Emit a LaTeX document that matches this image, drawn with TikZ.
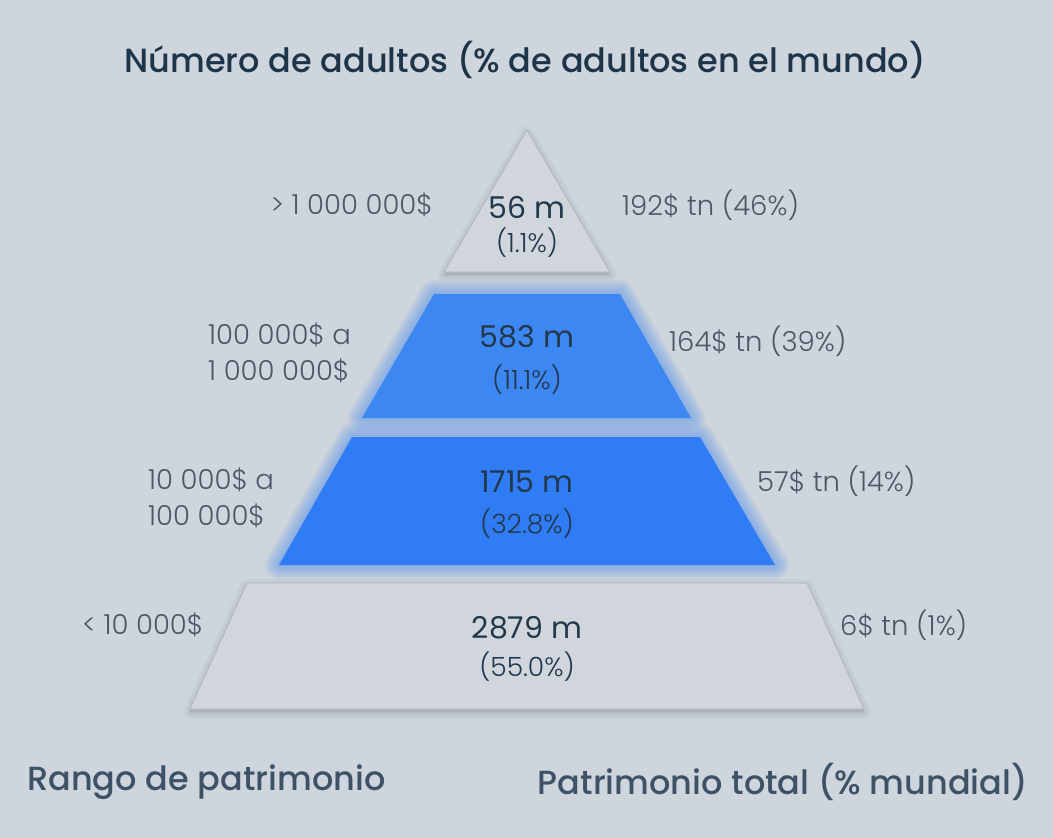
\documentclass[tikz,border=0pt]{standalone}
\usepackage{fontspec}
\setmainfont{Poppins}
\newfontfamily\medf{Poppins Medium}
\newfontfamily\lightf{Poppins Light}
\definecolor{bg}{HTML}{CFD5DC}
\definecolor{titlec}{HTML}{1E3549}
\definecolor{axisc}{HTML}{3D5266}
\definecolor{sidec}{HTML}{4C5867}
\definecolor{numc}{HTML}{22384D}
\definecolor{grayfill}{HTML}{D1D6DC}
\definecolor{grayedge}{HTML}{AEB4BB}
\definecolor{shadowc}{HTML}{7C8590}
\definecolor{blueA}{HTML}{3D87F3}
\definecolor{blueB}{HTML}{2F7CF5}
\definecolor{glow}{HTML}{3F88F5}
\tikzset{
  glowline/.style={draw=glow, line join=round, draw opacity=0.08, line width=#1},
  shadowline/.style={draw=shadowc, fill=shadowc, line join=round, draw opacity=0.05, fill opacity=0.05, line width=#1, yshift=-3pt},
  numtxt/.style={font=\fontsize{30}{34}\selectfont, text=numc, inner sep=0pt, anchor=center},
  pcttxt/.style={font=\lightf\fontsize{26.5}{30}\selectfont, text=numc, inner sep=0pt, anchor=center},
  sidetxt/.style={font=\lightf\fontsize{27.5}{36}\selectfont, text=sidec, inner sep=0pt, align=left},
  titletxt/.style={font=\medf\fontsize{33.5}{38}\selectfont, text=titlec, inner sep=0pt},
  axistxt/.style={font=\medf\fontsize{33.5}{38}\selectfont, text=axisc, inner sep=0pt}
}
\newcommand{\glowshape}[2]{%
  \foreach \w in {4,8,12,16,20,24,28}{\path[glowline=\w pt] #1;}%
  \path[fill=#2] #1;}
\newcommand{\shadowshape}[1]{%
  \foreach \w in {2,5,8,11,14}{\path[shadowline=\w pt] #1;}%
  \path[fill=grayfill, draw=grayedge, line width=0.7pt, line join=round] #1;}
\begin{document}
\begin{tikzpicture}[x=1pt,y=-1pt]
\useasboundingbox (0,0) rectangle (1053,838);
\fill[bg] (0,0) rectangle (1053,838);

% layers
\shadowshape{(527,130) -- (610,272) -- (444,272) -- cycle}
\glowshape{(434,294) -- (620,294) -- (691,418) -- (362,418) -- cycle}{blueA}
\glowshape{(352,437) -- (700,437) -- (775,565) -- (279,565) -- cycle}{blueB}
\shadowshape{(247,583) -- (807,583) -- (864,709) -- (190,709) -- cycle}

% centre texts
\node[numtxt] (n1) at (527,207) {56 m};
\node[pcttxt] (p1) at (527,243) {(1.1\%)};
\node[numtxt] (n2) at (527,337) {583 m};
\node[pcttxt] (p2) at (527,380) {(11.1\%)};
\node[numtxt] (n3) at (527,482) {1715 m};
\node[pcttxt] (p3) at (527,524) {(32.8\%)};
\node[numtxt] (n4) at (527,628) {2879 m};
\node[pcttxt] (p4) at (527,667) {(55.0\%)};

% left labels
\node[sidetxt, anchor=east] (l1) at (433,205) {> 1 000 000\$};
\node[sidetxt, anchor=west] (l2) at (208,353) {100 000\$ a\\1 000 000\$};
\node[sidetxt, anchor=west] (l3) at (148,498) {10 000\$ a\\100 000\$};
\node[sidetxt, anchor=west] (l4) at (82,625) {< 10 000\$};

% right labels
\node[sidetxt, anchor=west] (r1) at (622,205) {192\$ tn (46\%)};
\node[sidetxt, anchor=west] (r2) at (669,341) {164\$ tn (39\%)};
\node[sidetxt, anchor=west] (r3) at (757,481) {57\$ tn (14\%)};
\node[sidetxt, anchor=west] (r4) at (840,625) {6\$ tn (1\%)};

% titles
\node[titletxt] (title) at (525,60) {Número de adultos (\% de adultos en el mundo)};
\node[axistxt, anchor=west] (ax1) at (27,782) {Rango de patrimonio};
\node[axistxt, anchor=east] (ax2) at (1028,782) {Patrimonio total (\% mundial)};
\end{tikzpicture}
\end{document}
